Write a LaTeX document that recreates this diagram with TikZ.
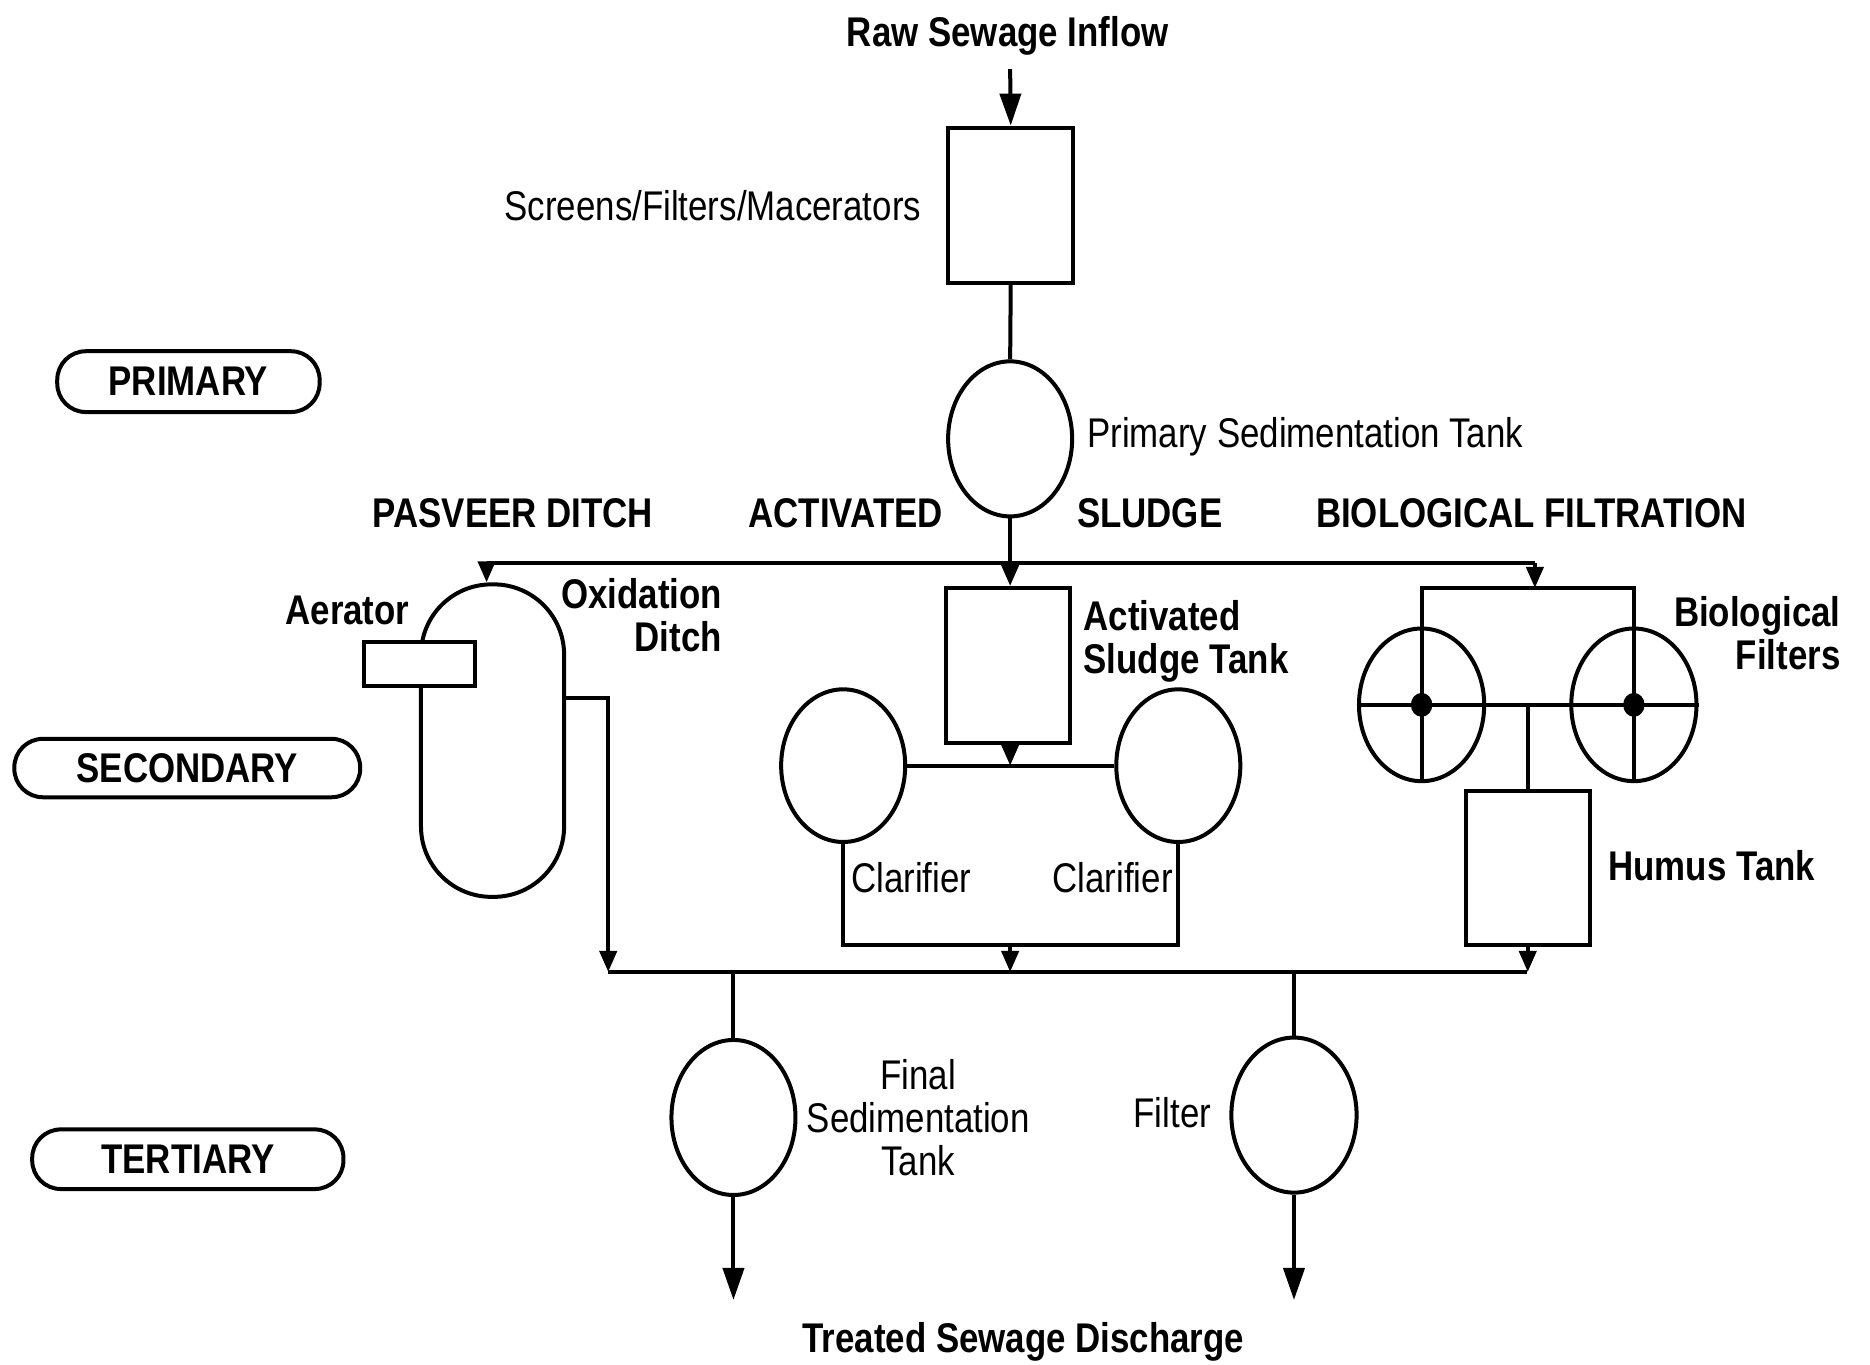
\documentclass[tikz,border=0pt]{standalone}
\usepackage{fontspec}
\setmainfont{Liberation Sans}[FakeStretch=0.84]
\usetikzlibrary{shapes.geometric,arrows.meta}
\newcommand\pxu{1.1926pt}
\begin{document}
\begin{tikzpicture}[x=1.1926pt,y=-1.1926pt,line width=4pt,
  lbl/.style={inner sep=0pt,font=\fontsize{41.5}{43}\selectfont},
  blbl/.style={inner sep=0pt,font=\fontsize{41.5}{43}\selectfont\bfseries},
  boxnode/.style={draw,rectangle,inner sep=0pt},
  tank/.style={draw,ellipse,inner sep=0pt,minimum width=104*\pxu,minimum height=130*\pxu},
  stage/.style={draw,rectangle,rounded corners=24*\pxu,inner sep=0pt,font=\fontsize{41.5}{43}\selectfont\bfseries},
  arr/.style={-{Triangle[width=21pt,length=32pt]}},
  sarr/.style={-{Triangle[width=17pt,length=21pt]}}]
\useasboundingbox (0,0) rectangle (1568,1144);
\fill[white] (0,0) rectangle (1568,1144);

% stage labels
\node[stage,minimum width=220*\pxu,minimum height=51*\pxu] (primary) at (158,320) {PRIMARY};
\node[stage,minimum width=290*\pxu,minimum height=49*\pxu] (secondary) at (157,644) {SECONDARY};
\node[stage,minimum width=261*\pxu,minimum height=50*\pxu] (tertiary) at (157.5,972) {TERTIARY};

% primary
\node[blbl,anchor=base] (raw) at (845,39) {Raw Sewage Inflow};
\coordinate (rawarr) at (847,58);
\node[boxnode,minimum width=105*\pxu,minimum height=130*\pxu] (screens) at (847.5,172) {};
\draw[arr] (rawarr) -- (screens.north);
\node[lbl,anchor=base east] (screenslbl) at (774,185) {Screens/Filters/Macerators};
\node[tank] (pst) at (847,368) {};
\draw (screens.south) -- (pst.north);
\node[lbl,anchor=base west] (pstlbl) at (910,375) {Primary Sedimentation Tank};

% category headings
\node[blbl,anchor=base] (hpas) at (430,442) {PASVEER DITCH};
\node[blbl,anchor=base] (hact) at (709,442) {ACTIVATED};
\node[blbl,anchor=base] (hsl) at (964,442) {SLUDGE};
\node[blbl,anchor=base] (hbio) at (1284,442) {BIOLOGICAL FILTRATION};

% distribution bus
\coordinate (busL) at (408,472);
\coordinate (busM) at (847,472);
\coordinate (busR) at (1287,472);
\draw (pst.south) -- (busM);
\draw (busL) -- (busR);

% Pasveer ditch
\node[draw,rectangle,rounded corners=59*\pxu,inner sep=0pt,minimum width=120*\pxu,minimum height=262*\pxu] (ditch) at (413,621) {};
\draw[sarr] (busL) -- (busL |- ditch.north);
\node[boxnode,fill=white,minimum width=93*\pxu,minimum height=37*\pxu] (aer) at (351.5,556.5) {};
\node[blbl,anchor=base east] (aerlbl) at (345,524) {Aerator};
\node[blbl,anchor=east,align=right] (oxlbl) at (607,515.5) {Oxidation\\Ditch};
\coordinate (ditchout) at (510,585);
\coordinate (bbL) at (510,815);
\coordinate (bbR) at (1280,815);
\draw[sarr] (ditch.east |- ditchout) -- (ditchout) -- (bbL);

% activated sludge
\node[boxnode,minimum width=104*\pxu,minimum height=130*\pxu] (ast) at (845,558) {};
\draw[sarr] (busM) -- (busM |- ast.north);
\node[blbl,anchor=west,align=left] (astlbl) at (907,538) {Activated\\Sludge Tank};
\node[tank,minimum height=128*\pxu] (cl1) at (707,642) {};
\node[tank,minimum height=128*\pxu] (cl2) at (988,642) {};
\draw (cl1.east) -- (cl2.west);
\draw[sarr] (busM |- ast.south) -- (busM |- cl1.east);
\coordinate (clb) at (847,792);
\draw (cl1.south) -- (cl1.south |- clb) -- (cl2.south |- clb) -- (cl2.south);
\draw[sarr] (clb) -- (clb |- bbL);
\node[lbl,anchor=base west] (cl1lbl) at (712,748) {Clarifier};
\node[lbl,anchor=base east] (cl2lbl) at (985,748) {Clarifier};

% biological filtration
\node[tank,minimum width=105*\pxu,minimum height=128*\pxu] (bf1) at (1192,591) {};
\node[tank,minimum width=105*\pxu,minimum height=128*\pxu] (bf2) at (1370,591) {};
\coordinate (bfb) at (1287,493);
\draw (bf1.south) -- (bf1.south |- bfb) -- (bf2.south |- bfb) -- (bf2.south);
\draw[sarr] (busR) -- (bfb);
\draw (bf1.west) -- (bf2.east);
\fill (bf1) ellipse[x radius=9,y radius=10];
\fill (bf2) ellipse[x radius=9,y radius=10];
\node[blbl,anchor=east,align=right] (bflbl) at (1545,531) {Biological\\Filters};
\node[boxnode,minimum width=104*\pxu,minimum height=129*\pxu] (humus) at (1281,727.5) {};
\coordinate (hj) at (1281,591);
\draw (hj) -- (humus.north);
\draw[sarr] (humus.south) -- (humus.south |- bbR);
\node[blbl,anchor=base west] (humuslbl) at (1347,738) {Humus Tank};

% collection bus
\draw (bbL) -- (bbR);

% tertiary
\node[tank] (fst) at (615,937) {};
\node[tank,minimum width=105*\pxu] (filt) at (1085,935) {};
\draw (fst.north |- bbL) -- (fst.north);
\draw (filt.north |- bbL) -- (filt.north);
\coordinate (out1) at (615,1090);
\coordinate (out2) at (1085,1090);
\draw[arr] (fst.south) -- (out1);
\draw[arr] (filt.south) -- (out2);
\node[lbl,align=center] (fstlbl) at (770,937) {Final\\Sedimentation\\Tank};
\node[lbl,anchor=base] (filtlbl) at (983,945) {Filter};
\node[blbl,anchor=base] (treated) at (858,1134) {Treated Sewage Discharge};
\end{tikzpicture}
\end{document}
